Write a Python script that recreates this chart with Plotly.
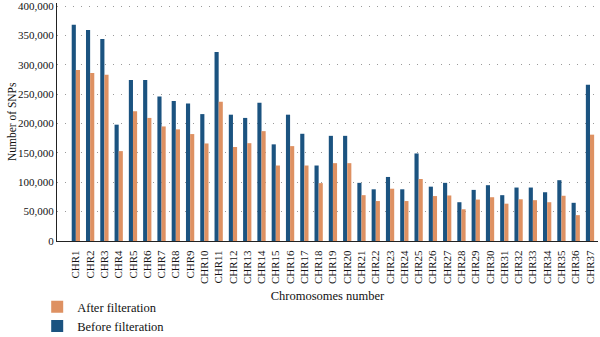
import plotly.graph_objects as go

categories = [f"CHR{i}" for i in range(1, 38)]
before_filtration = [368000, 359000, 344000, 198000, 274000, 274000, 246000, 238500, 234000,
                     216000, 321500, 215000, 209500, 235500, 164500, 215000, 182500, 128500,
                     179000, 179000, 99000, 88000, 109000, 88000, 149000, 92500, 99000,
                     66000, 87000, 95000, 78000, 91000, 91000, 83000, 103500, 65000, 266000]
after_filtration = [291000, 286000, 283000, 153000, 221000, 209500, 195000, 190000, 182000,
                    166000, 237000, 160000, 166500, 187000, 128500, 161500, 128500, 98500,
                    132500, 132500, 78000, 68000, 89000, 68000, 105500, 76500, 77500,
                    54000, 70500, 74500, 63500, 71000, 69500, 66000, 77000, 44000, 181000]
y_ticks = [0, 50000, 100000, 150000, 200000, 250000, 300000, 350000, 400000]
y_tick_labels = ["0", "50,000", "100,000", "150,000", "200,000", "250,000", "300,000", "350,000", "400,000"]

BLUE = "#1b5380"
ORANGE = "#de9162"
FONT = "Liberation Serif"

fig = go.Figure()
fig.add_trace(go.Bar(x=categories, y=before_filtration, name="Before filteration",
                     marker=dict(color=BLUE, line=dict(width=0))))
fig.add_trace(go.Bar(x=categories, y=after_filtration, name="After filteration",
                     marker=dict(color=ORANGE, line=dict(width=0))))

fig.update_layout(
    width=600, height=337,
    margin=dict(l=57, r=2, t=3, b=96, autoexpand=False),
    paper_bgcolor="white", plot_bgcolor="white",
    barmode="group", bargap=0.42, bargroupgap=0,
    font=dict(family=FONT, size=11, color="#111"),
    showlegend=True,
    legend=dict(orientation="v", traceorder="reversed",
                xref="container", yref="container", x=0.062, xanchor="left",
                y=0.133, yanchor="top", font=dict(family=FONT, size=12.5, color="#111"),
                itemwidth=30, tracegroupgap=0, bgcolor="rgba(0,0,0,0)"),
    xaxis=dict(type="category", range=[-1.32, 36.56], tickangle=-90, automargin=True,
               tickfont=dict(family=FONT, size=11), showline=True, linecolor="#222", linewidth=1,
               ticks="outside", ticklen=4, tickcolor="rgba(0,0,0,0)", showgrid=False,
               title=dict(text="Chromosomes number", font=dict(family=FONT, size=12.5), standoff=8)),
    yaxis=dict(range=[0, 405100], tickvals=y_ticks, ticktext=y_tick_labels, automargin=True,
               ticklabeloverflow="allow",
               tickfont=dict(family=FONT, size=11), showline=True, linecolor="#222", linewidth=1,
               ticks="", showgrid=True, gridcolor="#9a9a9a", griddash="1px,7px", gridwidth=1,
               zeroline=False),
    annotations=[dict(text="Number of SNPs", xref="paper", yref="paper", x=-0.083, y=0.5,
                      xanchor="center", yanchor="middle", textangle=-90, showarrow=False,
                      font=dict(family=FONT, size=11.5, color="#111"))],
)

fig.write_html("out.html")
